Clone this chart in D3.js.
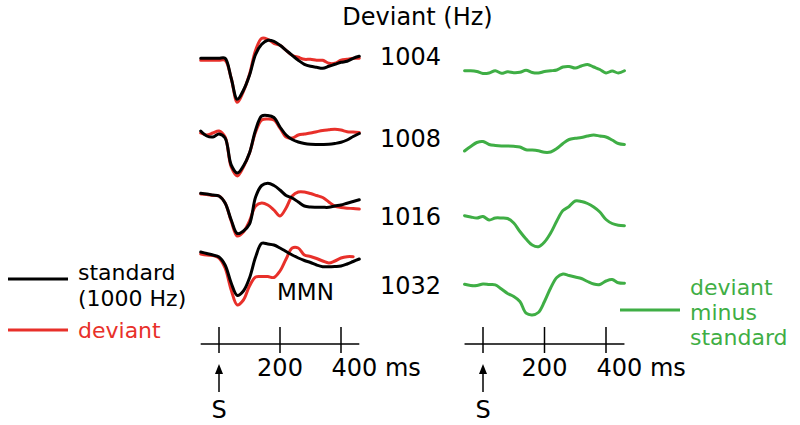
<!DOCTYPE html>
<html>
<head>
<meta charset="utf-8">
<script src="https://cdn.jsdelivr.net/npm/d3@7"></script>
<style>
  html, body { margin: 0; padding: 0; background: #ffffff; }
  svg { display: block; }
  text { font-family: "DejaVu Sans", Verdana, sans-serif; }
</style>
</head>
<body>
<svg id="chart" width="800" height="425"></svg>
<script>
// ---------------- DATA ----------------
const times = [-60,-40,-20,0,20,40,60,80,100,120,140,160,180,200,220,240,260,280,300,320,340,360,380,400,420,440,460];

const deviantLabels = ["1004", "1008", "1016", "1032"];

// standard (1000 Hz) ERP, µV (positive up)
const std1004 = [0,0,0,0,0,-2.0,-4.1,-3.2,-1.7,0.4,1.4,1.8,1.7,1.3,0.8,0.3,-0.2,-0.6,-0.8,-0.9,-1.0,-0.8,-0.6,-0.4,-0.3,0,0.2];
const std1008 = [0.2,-0.3,-0.4,-0.1,-0.5,-3.2,-4.0,-3.3,-2.0,0.3,1.7,1.75,1.55,0.6,-0.2,-0.65,-0.9,-1.05,-1.13,-1.15,-1.15,-1.13,-1.05,-0.93,-0.7,-0.35,-0.05];
const std1016 = [0.07,0,-0.1,-0.2,-0.9,-2.6,-3.95,-3.7,-3.0,-0.3,0.85,1.07,0.85,0.4,-0.15,-0.4,-0.8,-1.2,-1.3,-1.32,-1.33,-1.33,-1.2,-1.1,-0.92,-0.75,-0.58];
const std1032 = [0.2,0.05,-0.1,-0.3,-1.1,-2.9,-4.15,-3.7,-2.4,-0.3,1.07,1.0,0.9,0.6,0.25,-0.1,-0.4,-0.65,-0.85,-1.1,-1.27,-1.28,-1.25,-1.2,-1.0,-0.75,-0.5];

// deviant ERP, µV
const dev1004 = [-0.2,-0.2,-0.2,-0.2,-0.2,-2.0,-4.4,-3.3,-1.6,0.8,2.0,1.9,1.5,1.3,0.8,0.3,0.1,-0.1,-0.1,-0.2,-0.2,-0.5,-0.5,-0.2,-0.1,0,0];
const dev1008 = [0.0,-0.2,0.0,0.2,-0.4,-3.4,-4.3,-3.4,-2.0,0.1,1.3,1.4,1.3,0.5,-0.4,-0.5,-0.2,-0.1,0.0,0.13,0.25,0.32,0.38,0.3,0.13,0.1,0.05];
const dev1016 = [0.0,-0.05,-0.15,-0.2,-0.9,-2.7,-4.2,-3.8,-2.7,-1.2,-0.9,-1.1,-1.6,-2.2,-1.4,-0.2,0.2,0.2,0.05,-0.15,-0.35,-0.8,-1.2,-1.35,-1.42,-1.45,-1.5];
const dev1032 = [0.0,-0.1,-0.15,-0.4,-1.4,-3.6,-5.1,-4.6,-3.2,-2.3,-2.25,-2.25,-2.35,-1.7,-0.5,0.6,0.6,-0.1,-0.25,-0.45,-0.7,-0.9,-0.7,-0.4,-0.27,-0.27,null];

// deviant minus standard, µV
const diff1004 = [0.08,0.08,0,-0.2,-0.15,0.07,-0.18,-0.03,-0.12,-0.08,0.13,-0.1,-0.15,0,0.07,0.15,0.45,0.5,0.35,0.55,0.7,0.45,0.2,-0.15,0.05,-0.15,0.08];
const diff1008 = [-0.5,-0.05,0.35,0.45,0.15,0.05,0,0,-0.03,-0.1,-0.38,-0.4,-0.48,-0.63,-0.6,-0.25,0.25,0.65,0.77,0.85,1.0,1.1,1.0,0.9,0.6,0.25,0.15];
const diff1016 = [0.13,0,-0.1,0.05,-0.3,-0.1,-0.1,-0.15,-0.6,-1.45,-2.2,-2.8,-2.97,-2.5,-1.6,-0.4,0.65,1.05,1.6,1.55,1.35,1.0,0.5,-0.25,-0.65,-0.82,-0.87];
const diff1032 = [0.07,-0.05,-0.05,0.1,0.05,0.02,-0.4,-0.85,-1.15,-1.65,-2.82,-3.0,-2.75,-1.65,-0.3,0.75,1.1,0.95,0.8,0.65,0.35,0.1,0.05,0.4,0.55,0.22,0.17];

const tickValues = [0, 200, 400];
const tickLabels = ["", "200", "400 ms"];

// ---------------- LAYOUT ----------------
const COL_BLACK = "#000000";
const COL_RED = "#e8302a";
const COL_GREEN = "#3fae45";

const standards = [std1004, std1008, std1016, std1032];
const deviants = [dev1004, dev1008, dev1016, dev1032];
const diffs = [diff1004, diff1008, diff1016, diff1032];

const leftBase = [58.3, 133, 194, 254];
const rightBase = [71.5, 146, 217, 285];
const labelBase = [65, 147, 225, 294];
const pxPerUV = 10;

const svg = d3.select("#chart");

const xL = d3.scaleLinear().domain([0, 400]).range([219, 341]);
const xR = d3.scaleLinear().domain([0, 400]).range([483, 606]);

function yScale(base) {
  return d3.scaleLinear().domain([0, 1]).range([base, base - pxPerUV]);
}

function drawTrace(g, xs, ys, values, color) {
  const pts = times.map((t, i) => [t, values[i]]);
  const line = d3.line()
    .defined(d => d[1] !== null)
    .x(d => xs(d[0]))
    .y(d => ys(d[1]))
    .curve(d3.curveCatmullRom.alpha(0.5));
  g.append("path")
    .attr("d", line(pts))
    .attr("fill", "none")
    .attr("stroke", color)
    .attr("stroke-width", 3)
    .attr("stroke-linejoin", "round")
    .attr("stroke-linecap", "round");
}

const traces = svg.append("g");
for (let r = 0; r < 4; r++) {
  const yl = yScale(leftBase[r]);
  drawTrace(traces, xL, yl, deviants[r], COL_RED);
  drawTrace(traces, xL, yl, standards[r], COL_BLACK);
  const yr = yScale(rightBase[r]);
  drawTrace(traces, xR, yr, diffs[r], COL_GREEN);
  svg.append("text")
    .attr("x", 380).attr("y", labelBase[r])
    .attr("font-size", 24).attr("fill", "#000")
    .text(deviantLabels[r]);
}

// Title
svg.append("text")
  .attr("x", 417.5).attr("y", 25)
  .attr("text-anchor", "middle")
  .attr("font-size", 24).attr("fill", "#000")
  .text("Deviant (Hz)");

// MMN label
svg.append("text")
  .attr("x", 277).attr("y", 300)
  .attr("font-size", 23).attr("fill", "#000")
  .text("MMN");

// Time axes
function drawAxis(xs) {
  const g = svg.append("g");
  const [t0, t1] = [times[0], times[times.length - 1]];
  g.append("line")
    .attr("x1", xs(t0)).attr("x2", xs(t1))
    .attr("y1", 344).attr("y2", 344)
    .attr("stroke", "#000").attr("stroke-width", 1.5);
  tickValues.forEach((v, i) => {
    g.append("line")
      .attr("x1", xs(v)).attr("x2", xs(v))
      .attr("y1", 327).attr("y2", 353)
      .attr("stroke", "#000").attr("stroke-width", 1.5);
    if (tickLabels[i]) {
      const single = tickLabels[i].indexOf(" ") < 0;
      g.append("text")
        .attr("x", single ? xs(v) : xs(v) - 9.5)
        .attr("y", 376)
        .attr("text-anchor", single ? "middle" : "start")
        .attr("font-size", 24).attr("fill", "#000")
        .text(tickLabels[i]);
    }
  });
  // stimulus arrow
  const ax = xs(0);
  g.append("line")
    .attr("x1", ax).attr("x2", ax)
    .attr("y1", 392).attr("y2", 370)
    .attr("stroke", "#000").attr("stroke-width", 1.5);
  g.append("path")
    .attr("d", `M${ax},364 L${ax - 4},374 L${ax + 4},374 Z`)
    .attr("fill", "#000");
  g.append("text")
    .attr("x", ax).attr("y", 418)
    .attr("text-anchor", "middle")
    .attr("font-size", 24).attr("fill", "#000")
    .text("S");
}
drawAxis(xL);
drawAxis(xR);

// Left legend
svg.append("line").attr("x1", 8).attr("x2", 68).attr("y1", 279).attr("y2", 279)
  .attr("stroke", COL_BLACK).attr("stroke-width", 3);
svg.append("text").attr("x", 78).attr("y", 280).attr("font-size", 22).attr("fill", "#000").text("standard");
svg.append("text").attr("x", 78).attr("y", 306).attr("font-size", 22).attr("fill", "#000").text("(1000 Hz)");
svg.append("line").attr("x1", 8).attr("x2", 68).attr("y1", 330).attr("y2", 330)
  .attr("stroke", COL_RED).attr("stroke-width", 3);
svg.append("text").attr("x", 78).attr("y", 338).attr("font-size", 22).attr("fill", COL_RED).text("deviant");

// Right legend
svg.append("line").attr("x1", 620).attr("x2", 680).attr("y1", 310).attr("y2", 310)
  .attr("stroke", COL_GREEN).attr("stroke-width", 3);
["deviant", "minus", "standard"].forEach((s, i) => {
  svg.append("text").attr("x", 690).attr("y", 295 + i * 25)
    .attr("font-size", 22).attr("fill", COL_GREEN).text(s);
});
</script>
</body>
</html>
